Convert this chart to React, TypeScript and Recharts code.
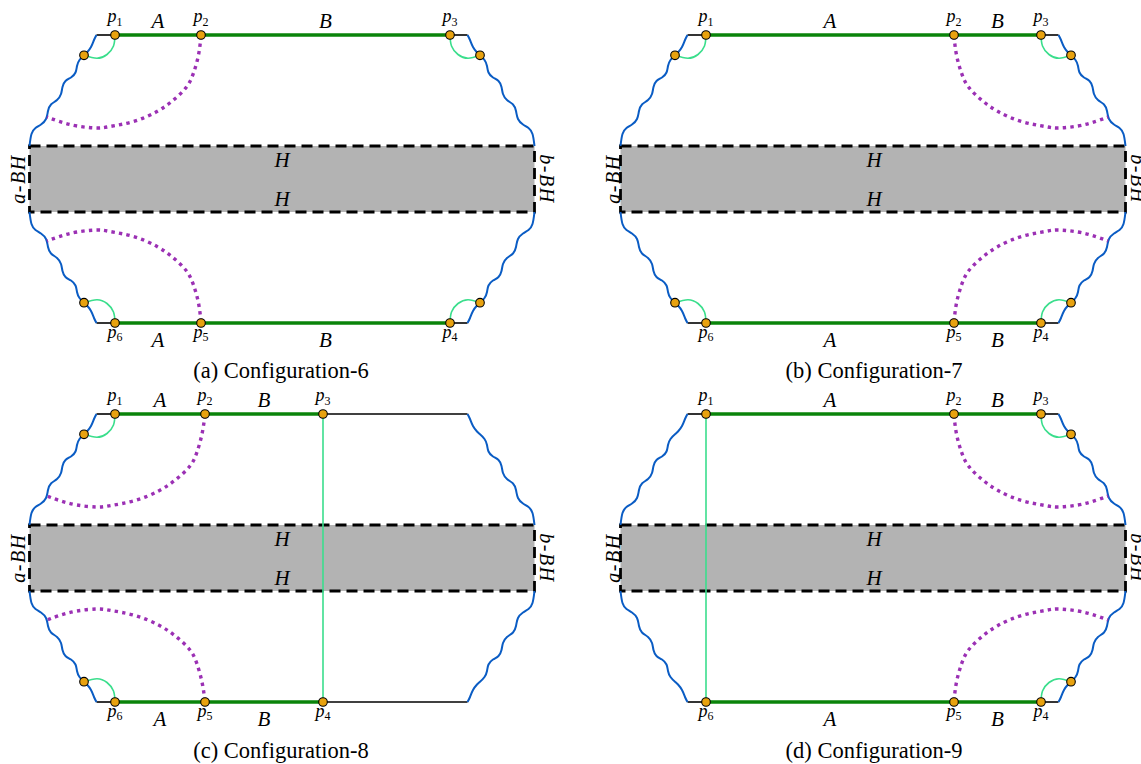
import { ComposedChart, Line, Scatter, XAxis, YAxis, ReferenceArea } from "recharts";

type Pt = { x: number; y: number };
type Lbl = { x: number; y: number; t: string; k: "p" | "m" | "l" | "r" | "c" };

// panel-local coordinates (y grows downward)
const waveTL = [[96.5, 35], [94, 40], [91, 47], [87, 52.5], [84, 55.3], [79.5, 60], [77, 66], [75.5, 72.5], [71, 77.5], [65.5, 81], [62.5, 87], [61, 94], [57, 100], [51, 104.5], [48, 111], [46, 119], [41, 124.5], [35.5, 128], [31.5, 134], [29.5, 146]];
const waveTR = [[467.5, 35], [470, 40], [473, 47], [477, 52.5], [480, 55.3], [484.5, 60], [487, 66], [488.5, 72.5], [493, 77.5], [498.5, 81], [501.5, 87], [503, 94], [507, 100], [513, 104.5], [516, 111], [518, 119], [523, 124.5], [528.5, 128], [532.5, 134], [534.5, 146]];
const waveBL = [[96.5, 323], [94, 318], [91, 311], [87, 305.5], [84, 302.7], [79.5, 298], [77, 292], [75.5, 285.5], [71, 280.5], [65.5, 277], [62.5, 271], [61, 264], [57, 258], [51, 253.5], [48, 247], [46, 239], [41, 233.5], [35.5, 230], [31.5, 224], [29.5, 212]];
const waveBR = [[467.5, 323], [470, 318], [473, 311], [477, 305.5], [480, 302.7], [484.5, 298], [487, 292], [488.5, 285.5], [493, 280.5], [498.5, 277], [501.5, 271], [503, 264], [507, 258], [513, 253.5], [516, 247], [518, 239], [523, 233.5], [528.5, 230], [532.5, 224], [534.5, 212]];
const waves = [waveTL, waveTR, waveBL, waveBR];

const box = { x1: 29.5, x2: 534.5, y1: 146, y2: 212 };

const arcTL = [[115, 35], [113.5, 46], [107, 54.5], [97, 58.3], [84, 55.3]];
const arcTR = [[450, 35], [451.5, 46], [458, 54.5], [468, 58.3], [480, 55.3]];
const arcBL = [[115, 323], [113.5, 312], [107, 303.5], [97, 299.7], [84, 302.7]];
const arcBR = [[450, 323], [451.5, 312], [458, 303.5], [468, 299.7], [480, 302.7]];

// configuration 6
const green6 = [[[115, 35], [450, 35]], [[115, 323], [450, 323]]];
const black6 = [[[96.5, 35], [115, 35]], [[450, 35], [467.5, 35]], [[96.5, 323], [115, 323]], [[450, 323], [467.5, 323]]];
const light6 = [arcTL, arcTR, arcBL, arcBR];
const purple6 = [
  [[201, 36], [198.5, 55], [193.5, 73], [186.5, 87], [173.5, 100], [157, 111.5], [133.5, 121.5], [110, 126.5], [97, 128], [77, 126], [60, 121.7], [47, 117]],
  [[201, 322], [198.5, 303], [193.5, 285], [186.5, 271], [173.5, 258], [157, 246.5], [133.5, 236.5], [110, 231.5], [97, 230], [77, 232], [60, 236.3], [47, 241]],
];
const dots6 = [[115, 35], [201, 35], [450, 35], [84, 55.3], [480, 55.3], [115, 323], [201, 323], [450, 323], [84, 302.7], [480, 302.7]];
const labels6: Lbl[] = [
  { x: 115, y: 22, t: "p1", k: "p" }, { x: 158, y: 28, t: "A", k: "m" }, { x: 201, y: 22, t: "p2", k: "p" }, { x: 325.5, y: 28, t: "B", k: "m" }, { x: 450, y: 22, t: "p3", k: "p" },
  { x: 115, y: 337.5, t: "p6", k: "p" }, { x: 158, y: 346.5, t: "A", k: "m" }, { x: 201, y: 337.5, t: "p5", k: "p" }, { x: 325.5, y: 346.5, t: "B", k: "m" }, { x: 450, y: 337.5, t: "p4", k: "p" },
  { x: 282, y: 167, t: "H", k: "m" }, { x: 282, y: 206, t: "H", k: "m" },
  { x: 25, y: 179, t: "a-BH", k: "l" }, { x: 540, y: 179, t: "b-BH", k: "r" },
  { x: 281, y: 378, t: "(a) Configuration-6", k: "c" },
];

// configuration 7
const green7 = green6;
const black7 = black6;
const light7 = [arcTL, arcTR, arcBL, arcBR];
const purple7 = [
  [[363, 36], [365.5, 55], [370.5, 73], [377.5, 87], [390.5, 100], [407, 111.5], [430.5, 121.5], [454, 126.5], [467, 128], [487, 126], [504, 121.7], [517, 117]],
  [[363, 322], [365.5, 303], [370.5, 285], [377.5, 271], [390.5, 258], [407, 246.5], [430.5, 236.5], [454, 231.5], [467, 230], [487, 232], [504, 236.3], [517, 241]],
];
const dots7 = [[115, 35], [363, 35], [450, 35], [84, 55.3], [480, 55.3], [115, 323], [363, 323], [450, 323], [84, 302.7], [480, 302.7]];
const labels7: Lbl[] = [
  { x: 115, y: 22, t: "p1", k: "p" }, { x: 239, y: 28, t: "A", k: "m" }, { x: 363, y: 22, t: "p2", k: "p" }, { x: 406.5, y: 28, t: "B", k: "m" }, { x: 450, y: 22, t: "p3", k: "p" },
  { x: 115, y: 337.5, t: "p6", k: "p" }, { x: 239, y: 346.5, t: "A", k: "m" }, { x: 363, y: 337.5, t: "p5", k: "p" }, { x: 406.5, y: 346.5, t: "B", k: "m" }, { x: 450, y: 337.5, t: "p4", k: "p" },
  { x: 283, y: 167, t: "H", k: "m" }, { x: 283, y: 206, t: "H", k: "m" },
  { x: 29, y: 179, t: "a-BH", k: "l" }, { x: 540, y: 179, t: "b-BH", k: "r" },
  { x: 283, y: 378, t: "(b) Configuration-7", k: "c" },
];

// configuration 8
const green8 = [[[115, 35], [323, 35]], [[115, 323], [323, 323]]];
const black8 = [[[96.5, 35], [115, 35]], [[323, 35], [467.5, 35]], [[96.5, 323], [115, 323]], [[323, 323], [467.5, 323]]];
const light8 = [arcTL, arcBL, [[323, 35], [323, 323]]];
const purple8 = [
  [[205, 36], [202, 55], [197, 73], [190, 87], [176.5, 100], [159.5, 111.5], [135, 121.5], [111, 126.5], [97, 128], [77, 126], [60, 121.7], [47, 117]],
  [[205, 322], [202, 303], [197, 285], [190, 271], [176.5, 258], [159.5, 246.5], [135, 236.5], [111, 231.5], [97, 230], [77, 232], [60, 236.3], [47, 241]],
];
const dots8 = [[115, 35], [205, 35], [323, 35], [84, 55.3], [115, 323], [205, 323], [323, 323], [84, 302.7]];
const labels8: Lbl[] = [
  { x: 115, y: 22, t: "p1", k: "p" }, { x: 160, y: 28, t: "A", k: "m" }, { x: 205, y: 22, t: "p2", k: "p" }, { x: 264, y: 28, t: "B", k: "m" }, { x: 323, y: 22, t: "p3", k: "p" },
  { x: 115, y: 337.5, t: "p6", k: "p" }, { x: 160, y: 346.5, t: "A", k: "m" }, { x: 205, y: 337.5, t: "p5", k: "p" }, { x: 264, y: 346.5, t: "B", k: "m" }, { x: 323, y: 337.5, t: "p4", k: "p" },
  { x: 282, y: 167, t: "H", k: "m" }, { x: 282, y: 206, t: "H", k: "m" },
  { x: 25, y: 179, t: "a-BH", k: "l" }, { x: 540, y: 179, t: "b-BH", k: "r" },
  { x: 281, y: 379, t: "(c) Configuration-8", k: "c" },
];

// configuration 9
const green9 = green6;
const black9 = black6;
const light9 = [arcTR, arcBR, [[115, 35], [115, 323]]];
const purple9 = purple7;
const dots9 = [[115, 35], [363, 35], [450, 35], [480, 55.3], [115, 323], [363, 323], [450, 323], [480, 302.7]];
const labels9: Lbl[] = [
  ...labels7.slice(0, 14),
  { x: 283, y: 379, t: "(d) Configuration-9", k: "c" },
];

const panels = [
  { left: 0, top: 0, green: green6, black: black6, light: light6, purple: purple6, dots: dots6, labels: labels6 },
  { left: 591, top: 0, green: green7, black: black7, light: light7, purple: purple7, dots: dots7, labels: labels7 },
  { left: 0, top: 379, green: green8, black: black8, light: light8, purple: purple8, dots: dots8, labels: labels8 },
  { left: 591, top: 379, green: green9, black: black9, light: light9, purple: purple9, dots: dots9, labels: labels9 },
];

const pts = (a: number[][]): Pt[] => a.map(([x, y]) => ({ x, y }));

const SERIF = "'Liberation Serif', 'Times New Roman', serif";

function Dot(props: any) {
  return <circle cx={props.cx} cy={props.cy} r={4.3} fill="#E8A20F" stroke="#000" strokeWidth={1.1} />;
}

function TextMark(props: any) {
  const { cx, cy, payload } = props;
  const { t, k } = payload as Lbl;
  if (k === "p") {
    return (
      <text x={cx} y={cy} textAnchor="middle" style={{ fontFamily: SERIF, fontSize: 18 }} fill="#000">
        <tspan style={{ fontStyle: "italic" }}>p</tspan>
        <tspan style={{ fontSize: 12 }} dy={3.5}>{t.slice(1)}</tspan>
      </text>
    );
  }
  if (k === "m") {
    return (
      <text x={cx} y={cy} textAnchor="middle" style={{ fontFamily: SERIF, fontStyle: "italic", fontSize: 21 }} fill="#000">
        {t}
      </text>
    );
  }
  if (k === "l" || k === "r") {
    return (
      <text x={cx} y={cy} textAnchor="middle" style={{ fontFamily: SERIF, fontStyle: "italic", fontSize: 20, letterSpacing: 1.5 }} fill="#000"
        transform={`rotate(${k === "l" ? -90 : 90} ${cx} ${cy})`}>
        {t}
      </text>
    );
  }
  return (
    <text x={cx} y={cy} textAnchor="middle" style={{ fontFamily: SERIF, fontSize: 22.5 }} fill="#000">
      {t}
    </text>
  );
}

function Panel({ p }: { p: (typeof panels)[number] }) {
  return (
    <div style={{ position: "absolute", left: p.left, top: p.top }}>
      <ComposedChart width={560} height={385} margin={{ top: 0, right: 0, bottom: 0, left: 0 }}>
        <XAxis type="number" dataKey="x" domain={[0, 560]} allowDataOverflow hide />
        <YAxis type="number" dataKey="y" domain={[0, 385]} allowDataOverflow reversed hide />
        <ReferenceArea {...box} fill="#b3b3b3" fillOpacity={1} stroke="#000" strokeWidth={2.8} strokeDasharray="11 6" />
        {p.black.map((s, i) => (
          <Line key={"k" + i} data={pts(s)} dataKey="y" type="linear" stroke="#000" strokeWidth={1.6} dot={false} activeDot={false} isAnimationActive={false} />
        ))}
        {waves.map((s, i) => (
          <Line key={"w" + i} data={pts(s)} dataKey="y" type="natural" stroke="#0a5cc4" strokeWidth={2} dot={false} activeDot={false} isAnimationActive={false} />
        ))}
        {p.green.map((s, i) => (
          <Line key={"g" + i} data={pts(s)} dataKey="y" type="linear" stroke="#0a840a" strokeWidth={3.4} dot={false} activeDot={false} isAnimationActive={false} />
        ))}
        {p.light.map((s, i) => (
          <Line key={"l" + i} data={pts(s)} dataKey="y" type="natural" stroke="#3ade8c" strokeWidth={1.6} dot={false} activeDot={false} isAnimationActive={false} />
        ))}
        {p.purple.map((s, i) => (
          <Line key={"u" + i} data={pts(s)} dataKey="y" type="natural" stroke="#9b30b4" strokeWidth={3.4} strokeDasharray="3.4 4.2" dot={false} activeDot={false} isAnimationActive={false} />
        ))}
        <Scatter data={pts(p.dots)} shape={<Dot />} isAnimationActive={false} />
        <Scatter data={p.labels} shape={<TextMark />} isAnimationActive={false} />
      </ComposedChart>
    </div>
  );
}

export default function App() {
  return (
    <div style={{ position: "absolute", left: 0, top: 0, width: 1141, height: 764, overflow: "hidden", background: "#fff" }}>
      {panels.map((p, i) => (
        <Panel key={i} p={p} />
      ))}
    </div>
  );
}
